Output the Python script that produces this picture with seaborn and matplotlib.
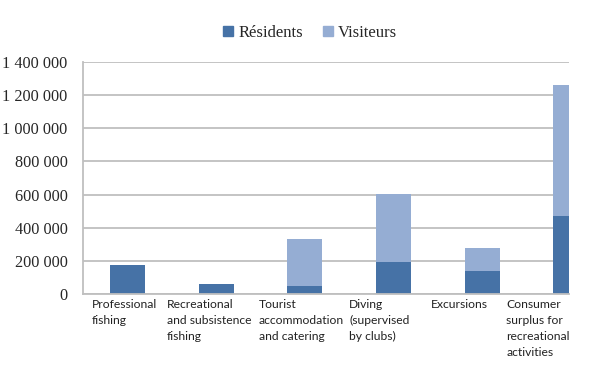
import matplotlib
matplotlib.use("Agg")
import matplotlib.pyplot as plt
import matplotlib.patches as mpatches
import seaborn as sns

# Data
categories = ["Professional\nfishing",
              "Recreational\nand subsistence\nfishing",
              "Tourist\naccommodation\nand catering",
              "Diving\n(supervised\nby clubs)",
              "Excursions",
              "Consumer\nsurplus for\nrecreational\nactivities"]
residents = [175000, 60000, 48000, 191000, 141000, 469000]
visitors = [0, 0, 284000, 411000, 135000, 791000]
yticks = [0, 200000, 400000, 600000, 800000, 1000000, 1200000, 1400000]

totals = [r + v for r, v in zip(residents, visitors)]

dark = "#4672A6"
light = "#95ADD3"
grid_col = "#BFBFBF"

sns.set_style("white")
fig = plt.figure(figsize=(6.11, 3.78), dpi=100)
ax = fig.add_axes([83 / 611, 1 - 294 / 378, (569 - 83) / 611, (294 - 62) / 378])

x = list(range(len(categories)))
sns.barplot(x=x, y=totals, color=light, width=0.395, saturation=1,
            ax=ax, native_scale=True, linewidth=0)
sns.barplot(x=x, y=residents, color=dark, width=0.395, saturation=1,
            ax=ax, native_scale=True, linewidth=0)

ax.set_yticks(yticks)
ax.set_yticklabels([f"{v:,}".replace(",", " ") for v in yticks],
                   fontfamily="Liberation Serif", fontsize=11.7)
ax.yaxis.grid(True, color=grid_col, linewidth=1.3)
ax.set_axisbelow(True)
ax.tick_params(axis="y", length=0, pad=11)

# category boundary ticks on x axis, labels drawn as text
ax.set_xticks([i - 0.5 for i in range(len(categories))])
ax.set_xticklabels([])
ax.tick_params(axis="x", length=4, color=grid_col, width=1)

# the last category is cut by the plot edge, as in the original
ax.set_xlim(-0.5, 4.98)
ax.set_ylim(0, 1400000)

label_x = [-0.03, 0.92, 1.96, 2.84, 3.74, 4.63]
for lx, lab in zip(label_x, categories):
    ax.text(lx, -0.022, lab, transform=ax.get_xaxis_transform(),
            ha="center", va="top", multialignment="left",
            fontfamily="Lato", fontsize=8.7, color="#222222", linespacing=1.55)

for s in ["top", "right"]:
    ax.spines[s].set_visible(False)
ax.spines["left"].set_color(grid_col)
ax.spines["bottom"].set_color(grid_col)
ax.spines["left"].set_linewidth(1.3)
ax.spines["bottom"].set_linewidth(1.3)
ax.set_xlabel("")
ax.set_ylabel("")

handles = [mpatches.Patch(color=dark, label="Résidents"),
           mpatches.Patch(color=light, label="Visiteurs")]
fig.legend(handles=handles, loc="center", bbox_to_anchor=(310 / 611, 1 - 33 / 378),
           ncol=2, frameon=False, prop={"family": "Liberation Serif", "size": 12},
           handlelength=0.6, handleheight=0.6, handletextpad=0.3, columnspacing=1.2)

fig.savefig("out.png", dpi=100)
